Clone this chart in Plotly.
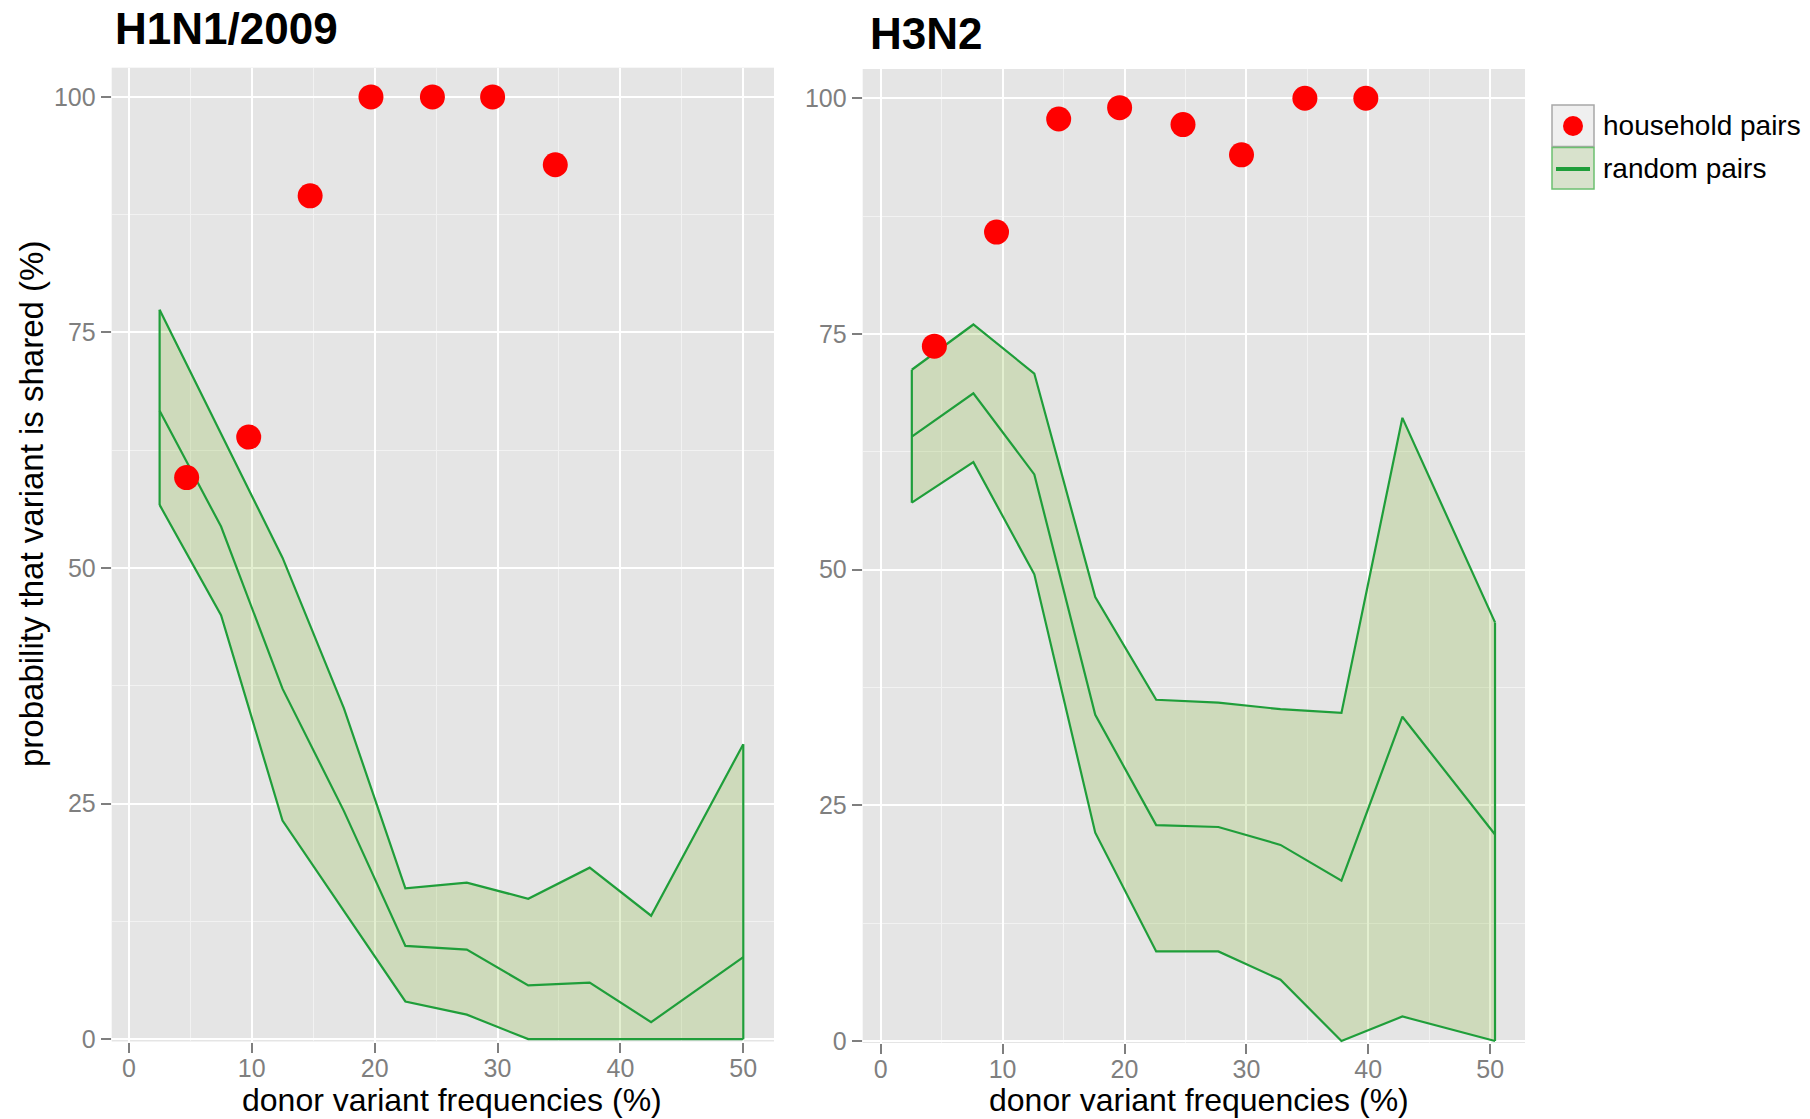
import plotly.graph_objects as go

W, H = 1810, 1119

# ---- data ----
h1_pts_x = [4.7, 9.75, 14.75, 19.7, 24.7, 29.6, 34.7]
h1_pts_y = [59.6, 63.9, 89.5, 100, 100, 100, 92.8]
h1_rib_x = [2.5, 7.5, 12.5, 17.5, 22.5, 27.5, 32.5, 37.5, 42.5, 50]
h1_upper = [77.4, 64.3, 51.1, 35.1, 16.0, 16.6, 14.9, 18.2, 13.1, 31.3]
h1_mid = [66.7, 54.4, 37.2, 24.2, 9.9, 9.5, 5.7, 6.0, 1.8, 8.7]
h1_lower = [56.7, 45.0, 23.2, 13.6, 4.0, 2.6, 0, 0, 0, 0]

h3_pts_x = [4.4, 9.5, 14.6, 19.6, 24.8, 29.6, 34.8, 39.8]
h3_pts_y = [73.7, 85.8, 97.8, 99.0, 97.2, 94.0, 100, 100]
h3_rib_x = [2.55, 7.6, 12.6, 17.6, 22.6, 27.7, 32.8, 37.8, 42.8, 50.4]
h3_upper = [71.2, 76.0, 70.8, 47.1, 36.2, 35.9, 35.2, 34.8, 66.1, 44.4]
h3_mid = [64.1, 68.7, 60.1, 34.6, 22.9, 22.7, 20.8, 17.0, 34.4, 21.9]
h3_lower = [57.1, 61.4, 49.5, 22.1, 9.5, 9.5, 6.5, 0, 2.6, 0]

x_ticks = [0, 10, 20, 30, 40, 50]
y_ticks = [0, 25, 50, 75, 100]
titles = ["H1N1/2009", "H3N2"]
legend_labels = ["household pairs", "random pairs"]
x_title = "donor variant frequencies (%)"
y_title = "probability that variant is shared (%)"

GREEN = "#1F9E3A"
FILL = "rgba(117,177,22,0.2)"
RED = "#FF0000"
FONT = "Liberation Sans, Arial, sans-serif"
TICKC = "#7F7F7F"

fig = go.Figure()

def add_panel(xa, ya, rx, lo, mid, up, px, py):
    fig.add_trace(go.Scatter(x=rx, y=lo, mode="lines", line=dict(color=GREEN, width=2.2),
                             xaxis=xa, yaxis=ya, showlegend=False, hoverinfo="skip"))
    fig.add_trace(go.Scatter(x=rx, y=up, mode="lines", line=dict(color=GREEN, width=2.2),
                             fill="tonexty", fillcolor=FILL,
                             xaxis=xa, yaxis=ya, showlegend=False, hoverinfo="skip"))
    fig.add_trace(go.Scatter(x=[rx[0], rx[0]], y=[lo[0], up[0]], mode="lines",
                             line=dict(color=GREEN, width=2.2), xaxis=xa, yaxis=ya,
                             showlegend=False, hoverinfo="skip"))
    fig.add_trace(go.Scatter(x=[rx[-1], rx[-1]], y=[lo[-1], up[-1]], mode="lines",
                             line=dict(color=GREEN, width=2.2), xaxis=xa, yaxis=ya,
                             showlegend=False, hoverinfo="skip"))
    fig.add_trace(go.Scatter(x=rx, y=mid, mode="lines", line=dict(color=GREEN, width=2.2),
                             xaxis=xa, yaxis=ya, showlegend=False, hoverinfo="skip"))
    fig.add_trace(go.Scatter(x=px, y=py, mode="markers",
                             marker=dict(color=RED, size=25, line=dict(width=0)),
                             xaxis=xa, yaxis=ya, showlegend=False, cliponaxis=False))

add_panel("x", "y", h1_rib_x, h1_lower, h1_mid, h1_upper, h1_pts_x, h1_pts_y)
add_panel("x2", "y2", h3_rib_x, h3_lower, h3_mid, h3_upper, h3_pts_x, h3_pts_y)

def xaxis(domain, rng, anchor):
    return dict(domain=domain, range=rng, anchor=anchor, tickvals=x_ticks,
                ticks="outside", ticklen=10, tickwidth=1.5, tickcolor=TICKC,
                ticklabelstandoff=-6,
                tickfont=dict(family=FONT, size=25, color=TICKC),
                showgrid=True, gridcolor="white", gridwidth=2.2, zeroline=False,
                showline=False, automargin=False,
                minor=dict(tick0=0, dtick=5, showgrid=True, gridcolor="#F2F2F2", gridwidth=1, ticks=""))

def yaxis(domain, rng, anchor):
    return dict(domain=domain, range=rng, anchor=anchor, tickvals=y_ticks,
                ticks="outside", ticklen=10, tickwidth=1.5, tickcolor=TICKC,
                tickfont=dict(family=FONT, size=25, color=TICKC),
                showgrid=True, gridcolor="white", gridwidth=2.2, zeroline=False,
                showline=False, automargin=False,
                minor=dict(tick0=0, dtick=12.5, showgrid=True, gridcolor="#F2F2F2", gridwidth=1, ticks=""))

def px2x(p):
    return p / W

def px2y(p):
    return 1 - p / H

fig.update_layout(
    width=W, height=H, autosize=False, margin=dict(l=0, r=0, t=0, b=0, pad=0),
    paper_bgcolor="white", plot_bgcolor="#E5E5E5",
    xaxis=xaxis([px2x(111.7), px2x(774)], [-1.4, 52.5], "y"),
    yaxis=yaxis([px2y(1041.5), px2y(67.7)], [-0.25, 103.1], "x"),
    xaxis2=xaxis([px2x(862.7), px2x(1525)], [-1.48, 52.86], "y2"),
    yaxis2=yaxis([px2y(1043), px2y(69)], [-0.21, 103.1], "x2"),
    font=dict(family=FONT),
)

ann = []
ann.append(dict(text="<b>%s</b>" % titles[0], x=px2x(113), y=px2y(29), xref="paper", yref="paper",
                xanchor="left", yanchor="middle", showarrow=False,
                font=dict(family=FONT, size=44, color="black")))
ann.append(dict(text="<b>%s</b>" % titles[1], x=px2x(868), y=px2y(33), xref="paper", yref="paper",
                xanchor="left", yanchor="middle", showarrow=False,
                font=dict(family=FONT, size=44, color="black")))
for cx in (452, 1199):
    ann.append(dict(text=x_title, x=px2x(cx), y=px2y(1100), xref="paper", yref="paper",
                    xanchor="center", yanchor="middle", showarrow=False,
                    font=dict(family=FONT, size=32, color="black")))
ann.append(dict(text=y_title, x=px2x(31), y=px2y(504), xref="paper", yref="paper",
                xanchor="center", yanchor="middle", showarrow=False, textangle=-90,
                font=dict(family=FONT, size=33, color="black")))
ann.append(dict(text=legend_labels[0], x=px2x(1601), y=px2y(126), xref="paper", yref="paper",
                xanchor="left", yanchor="middle", showarrow=False,
                font=dict(family=FONT, size=28, color="black")))
ann.append(dict(text=legend_labels[1], x=px2x(1601), y=px2y(168), xref="paper", yref="paper",
                xanchor="left", yanchor="middle", showarrow=False,
                font=dict(family=FONT, size=28, color="black")))
fig.update_layout(annotations=ann)

shapes = []
shapes.append(dict(type="rect", xref="paper", yref="paper",
                   x0=px2x(1552), x1=px2x(1594), y0=px2y(146.5), y1=px2y(105),
                   fillcolor="#EFEFEF", line=dict(color="#A8A8A8", width=1.5)))
shapes.append(dict(type="circle", xref="paper", yref="paper",
                   x0=px2x(1563), x1=px2x(1583), y0=px2y(136), y1=px2y(116),
                   fillcolor=RED, line=dict(width=0)))
shapes.append(dict(type="rect", xref="paper", yref="paper",
                   x0=px2x(1552), x1=px2x(1594), y0=px2y(189), y1=px2y(147.5),
                   fillcolor="#D8E2CC", line=dict(color="#6CC070", width=1.5)))
shapes.append(dict(type="line", xref="paper", yref="paper",
                   x0=px2x(1556), x1=px2x(1590), y0=px2y(169), y1=px2y(169),
                   line=dict(color=GREEN, width=4)))
fig.update_layout(shapes=shapes)

fig.write_html("out.html", config={"responsive": False})
